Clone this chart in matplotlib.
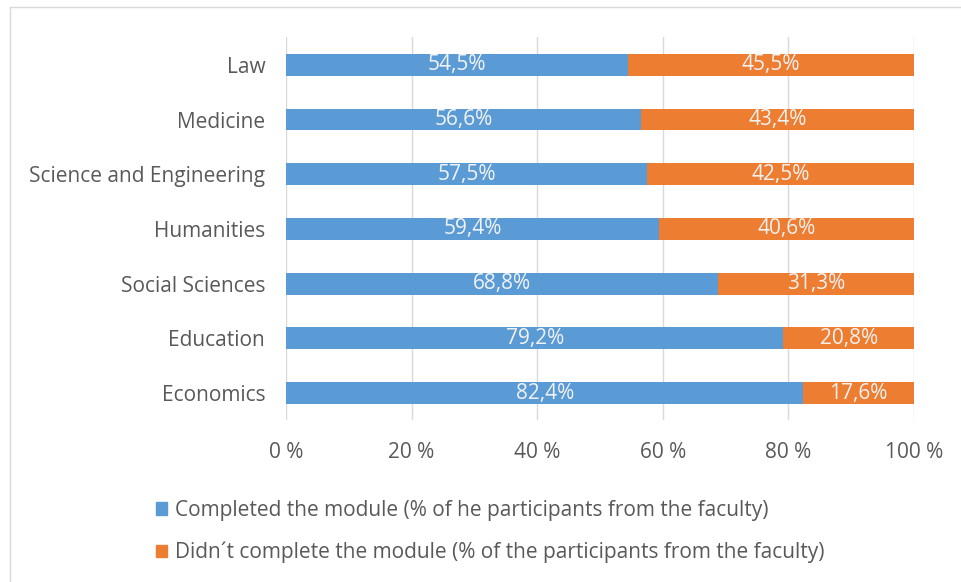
import matplotlib.pyplot as plt
from matplotlib.lines import Line2D
from matplotlib.patches import Patch

# Faculty results, top to bottom as they appear on the chart
faculties = ['Law', 'Medicine', 'Science and Engineering', 'Humanities',
             'Social Sciences', 'Education', 'Economics']
completed = [54.5, 56.6, 57.5, 59.4, 68.8, 79.2, 82.4]
not_completed = [45.5, 43.4, 42.5, 40.6, 31.3, 20.8, 17.6]
x_ticks = [0, 20, 40, 60, 80, 100]

blue = '#5B9BD5'
orange = '#ED7D31'
text_gray = '#595959'
fs = 15

plt.rcParams['font.family'] = ['Open Sans', 'DejaVu Sans']

fig = plt.figure(figsize=(9.61, 5.82), dpi=100)
ax = fig.add_axes([0.2976, 0.2775, 0.6535, 0.6581])

# categories are drawn from the top down
ypos = [len(faculties) - 1 - i for i in range(len(faculties))]

bars1 = ax.barh(ypos, completed, height=0.40, color=blue, zorder=2)
bars2 = ax.barh(ypos, not_completed, left=completed, height=0.40, color=orange, zorder=2)

def fmt(v):
    return f'{v:.1f}%'.replace('.', ',')

ax.bar_label(bars1, labels=[fmt(v) for v in completed], label_type='center',
             color='#F2F2F2', fontsize=fs)
ax.bar_label(bars2, labels=[fmt(v) for v in not_completed], label_type='center',
             color='#F2F2F2', fontsize=fs)

ax.set_xlim(0, 100)
ax.set_ylim(-0.5, len(faculties) - 0.5)
ax.set_xticks(x_ticks)
ax.set_xticklabels([f'{t} %' for t in x_ticks])
ax.set_yticks(ypos)
ax.set_yticklabels(faculties)
ax.tick_params(axis='both', length=0, labelsize=fs, colors=text_gray)
ax.tick_params(axis='x', pad=15.5)
ax.tick_params(axis='y', pad=15)
ax.grid(axis='x', color='#D9D9D9', linewidth=1, zorder=0)
for s in ax.spines.values():
    s.set_visible(False)

handles = [Patch(color=blue), Patch(color=orange)]
labels = ['Completed the module (% of he participants from the faculty)',
          'Didn´t complete the module (% of the participants from the faculty)']
leg = fig.legend(handles, labels, loc='upper left', bbox_to_anchor=(0.1623, 0.1410),
                 frameon=False, fontsize=fs, handlelength=0.55, handleheight=0.55,
                 handletextpad=0.38, labelspacing=1.0, borderaxespad=0, borderpad=0)
for t in leg.get_texts():
    t.set_color(text_gray)

# thin outline around the chart area
fig.add_artist(Line2D([10 / 961, 1], [1 - 7 / 582, 1 - 7 / 582],
                      transform=fig.transFigure, color='#D9D9D9', linewidth=1))
fig.add_artist(Line2D([10 / 961, 10 / 961], [0, 1 - 7 / 582],
                      transform=fig.transFigure, color='#D9D9D9', linewidth=1))

fig.savefig('out.png', dpi=100)
